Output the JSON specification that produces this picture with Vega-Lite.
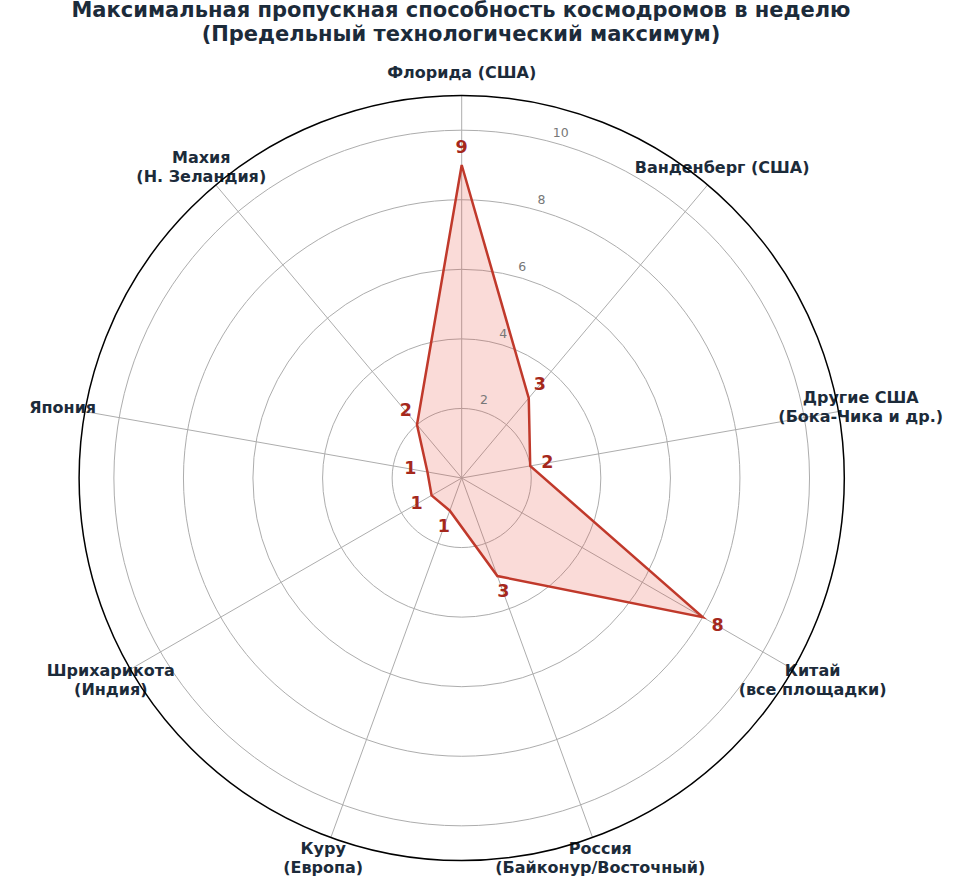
{
  "$schema": "https://vega.github.io/schema/vega-lite/v6.json",
  "width": 974,
  "height": 839,
  "autosize": {"type": "pad"},
  "padding": {"left": 0, "top": 0, "right": 0, "bottom": 0},
  "background": "white",
  "title": {
    "text": ["Максимальная пропускная способность космодромов в неделю", "(Предельный технологический максимум)"],
    "font": "DejaVu Sans",
    "fontSize": 21,
    "fontWeight": "bold",
    "color": "#1c2b3a",
    "anchor": "middle",
    "dx": -26,
    "offset": 0,
    "lineHeight": 24
  },
  "config": {"view": {"stroke": null}, "font": "DejaVu Sans"},
  "datasets": {
    "sites": [
      {"site": "Флорида (США)", "i": 0, "value": 9},
      {"site": "Ванденберг (США)", "i": 1, "value": 3},
      {"site": "Другие США\n(Бока-Чика и др.)", "i": 2, "value": 2},
      {"site": "Китай\n(все площадки)", "i": 3, "value": 8},
      {"site": "Россия\n(Байконур/Восточный)", "i": 4, "value": 3},
      {"site": "Куру\n(Европа)", "i": 5, "value": 1},
      {"site": "Шрихарикота\n(Индия)", "i": 6, "value": 1},
      {"site": "Япония", "i": 7, "value": 1},
      {"site": "Махия\n(Н. Зеландия)", "i": 8, "value": 2}
    ],
    "rings": [{"r": 2}, {"r": 4}, {"r": 6}, {"r": 8}, {"r": 10}]
  },
  "encoding": {
    "x": {"field": "px", "type": "quantitative", "scale": {"domain": [-13.275, 14.73], "nice": false, "zero": false}, "axis": null},
    "y": {"field": "py", "type": "quantitative", "scale": {"domain": [-11.673, 12.45], "nice": false, "zero": false}, "axis": null}
  },
  "layer": [
    {
      "data": {"name": "rings"},
      "transform": [
        {"calculate": "0", "as": "px"},
        {"calculate": "0", "as": "py"}
      ],
      "mark": {"type": "arc", "theta": 0, "theta2": 6.2832, "filled": false, "stroke": "#adadad", "strokeWidth": 1},
      "encoding": {
        "radius": {"field": "r", "type": "quantitative", "stack": null, "scale": {"type": "linear", "domain": [0, 11], "range": [0, 382.6], "zero": true}, "legend": null}
      }
    },
    {
      "data": {"name": "sites"},
      "transform": [
        {"calculate": "datum.i * 2 * PI / 9", "as": "a"},
        {"calculate": "0", "as": "px"},
        {"calculate": "0", "as": "py"},
        {"calculate": "11 * sin(datum.a)", "as": "ex"},
        {"calculate": "11 * cos(datum.a)", "as": "ey"}
      ],
      "mark": {"type": "rule", "stroke": "#adadad", "strokeWidth": 1},
      "encoding": {
        "x2": {"field": "ex"},
        "y2": {"field": "ey"}
      }
    },
    {
      "data": {"name": "sites"},
      "transform": [
        {"calculate": "datum.i * 2 * PI / 9", "as": "a"},
        {"calculate": "datum.value * sin(datum.a)", "as": "px"},
        {"calculate": "datum.value * cos(datum.a)", "as": "py"}
      ],
      "mark": {"type": "line", "interpolate": "linear-closed", "fill": "#e74c3c", "fillOpacity": 0.2, "stroke": "#c0392b", "strokeWidth": 2.5},
      "encoding": {
        "order": {"field": "i", "type": "quantitative"}
      }
    },
    {
      "data": {"name": "sites"},
      "transform": [
        {"calculate": "datum.i * 2 * PI / 9", "as": "a"},
        {"calculate": "(datum.value + 0.5) * sin(datum.a)", "as": "px"},
        {"calculate": "(datum.value + 0.5) * cos(datum.a)", "as": "py"}
      ],
      "mark": {"type": "text", "fontSize": 17.5, "fontWeight": "bold", "color": "#a5281c", "align": "center", "baseline": "middle"},
      "encoding": {
        "text": {"field": "value", "type": "quantitative"}
      }
    },
    {
      "data": {"name": "rings"},
      "transform": [
        {"calculate": "(datum.r + 0.32) * sin(0.2793)", "as": "px"},
        {"calculate": "(datum.r + 0.32) * cos(0.2793)", "as": "py"}
      ],
      "mark": {"type": "text", "fontSize": 12.5, "color": "#777777", "align": "center", "baseline": "middle"},
      "encoding": {
        "text": {"field": "r", "type": "quantitative"}
      }
    },
    {
      "data": {"name": "sites"},
      "transform": [
        {"filter": "indexof(datum.site, '\\n') < 0"},
        {"calculate": "datum.i * 2 * PI / 9", "as": "a"},
        {"calculate": "11.65 * sin(datum.a)", "as": "px"},
        {"calculate": "11.65 * cos(datum.a)", "as": "py"}
      ],
      "mark": {"type": "text", "fontSize": 16, "fontWeight": "bold", "color": "#1c2b3a", "align": "center", "baseline": "middle"},
      "encoding": {
        "text": {"field": "site", "type": "nominal"}
      }
    },
    {
      "data": {"name": "sites"},
      "transform": [
        {"filter": "indexof(datum.site, '\\n') >= 0"},
        {"calculate": "datum.i * 2 * PI / 9", "as": "a"},
        {"calculate": "11.65 * sin(datum.a)", "as": "px"},
        {"calculate": "11.65 * cos(datum.a)", "as": "py"}
      ],
      "mark": {"type": "text", "fontSize": 16, "fontWeight": "bold", "color": "#1c2b3a", "align": "center", "baseline": "middle", "lineBreak": "\n", "lineHeight": 19, "dy": -9.5},
      "encoding": {
        "text": {"field": "site", "type": "nominal"}
      }
    },
    {
      "data": {"values": [{"r": 11}]},
      "transform": [
        {"calculate": "0", "as": "px"},
        {"calculate": "0", "as": "py"}
      ],
      "mark": {"type": "arc", "theta": 0, "theta2": 6.2832, "filled": false, "stroke": "#000000", "strokeWidth": 1.5},
      "encoding": {
        "radius": {"field": "r", "type": "quantitative", "stack": null, "scale": {"type": "linear", "domain": [0, 11], "range": [0, 382.6], "zero": true}, "legend": null}
      }
    }
  ]
}
